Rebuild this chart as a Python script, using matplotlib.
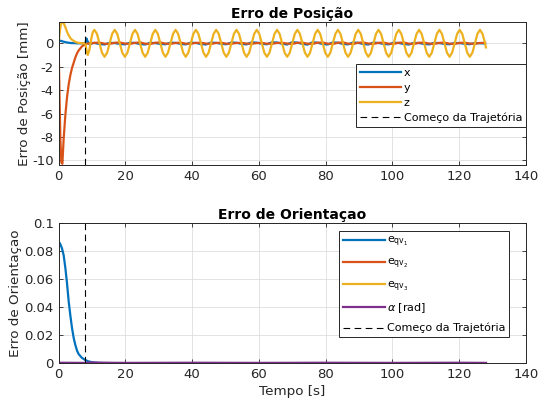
import matplotlib
matplotlib.use('Agg')
import matplotlib.pyplot as plt

plt.rcParams['font.family'] = ['DejaVu Sans']
plt.rcParams['axes.unicode_minus'] = False

# instante em que a trajetoria comeca
t_start = 8.0

# transitorio inicial (posicao)
t_tr = [0.0, 0.25, 0.5, 0.8, 1.1, 1.5, 2.0, 2.5, 3.0, 3.5, 4.0, 5.0, 5.5, 6.0,
        7.0, 8.0, 8.3, 8.7, 9.2, 9.7, 10.2]
x_tr = [0.25, 0.24, 0.22, 0.2, 0.17, 0.14, 0.1, 0.07, 0.05, 0.03, 0.02, 0.01,
        0.0, 0.0, 0.0, 0.0, 0.42, 0.15, -0.08, -0.05, 0.04]
y_tr = [-0.5, -4.5, -8.2, -10.2, -10.3, -8.1, -6.1, -4.6, -3.5, -2.7, -2.1,
        -1.2, -0.85, -0.6, -0.25, -0.08, -0.05, -0.02, 0.0, 0.02, 0.0]
z_tr = [0.0, 0.8, 1.35, 1.75, 1.85, 1.72, 1.38, 0.98, 0.68, 0.45, 0.3, 0.12,
        0.07, 0.04, 0.01, 0.0, -0.55, -1.0, -0.55, 0.3, 0.95]

# regime oscilatorio (posicao)
t_osc = [10.70, 11.46, 12.22, 12.98, 13.74, 14.50, 15.26, 16.02,
         16.78, 17.54, 18.30, 19.06, 19.82, 20.58, 21.34, 22.10,
         22.86, 23.62, 24.38, 25.14, 25.90, 26.66, 27.42, 28.18,
         28.94, 29.70, 30.46, 31.22, 31.98, 32.74, 33.50, 34.26,
         35.02, 35.78, 36.54, 37.30, 38.06, 38.82, 39.58, 40.34,
         41.10, 41.86, 42.62, 43.38, 44.14, 44.90, 45.66, 46.42,
         47.18, 47.94, 48.70, 49.46, 50.22, 50.98, 51.74, 52.50,
         53.26, 54.02, 54.78, 55.54, 56.30, 57.06, 57.82, 58.58,
         59.34, 60.10, 60.86, 61.62, 62.38, 63.14, 63.90, 64.66,
         65.42, 66.18, 66.94, 67.70, 68.46, 69.22, 69.98, 70.74,
         71.50, 72.26, 73.02, 73.78, 74.54, 75.30, 76.06, 76.82,
         77.58, 78.34, 79.10, 79.86, 80.62, 81.38, 82.14, 82.90,
         83.66, 84.42, 85.18, 85.94, 86.70, 87.46, 88.22, 88.98,
         89.74, 90.50, 91.26, 92.02, 92.78, 93.54, 94.30, 95.06,
         95.82, 96.58, 97.34, 98.10, 98.86, 99.62, 100.38, 101.14,
         101.90, 102.66, 103.42, 104.18, 104.94, 105.70, 106.46, 107.22,
         107.98, 108.74, 109.50, 110.26, 111.02, 111.78, 112.54, 113.30,
         114.06, 114.82, 115.58, 116.34, 117.10, 117.86, 118.62, 119.38,
         120.14, 120.90, 121.66, 122.42, 123.18, 123.94, 124.70, 125.46,
         126.22, 126.98, 127.74, 128.00]
z_osc = [1.15, 0.81, 0.0, -0.81, -1.15, -0.81, 0.0, 0.81,
         1.15, 0.81, 0.0, -0.81, -1.15, -0.81, 0.0, 0.81,
         1.15, 0.81, 0.0, -0.81, -1.15, -0.81, 0.0, 0.81,
         1.15, 0.81, 0.0, -0.81, -1.15, -0.81, 0.0, 0.81,
         1.15, 0.81, 0.0, -0.81, -1.15, -0.81, 0.0, 0.81,
         1.15, 0.81, 0.0, -0.81, -1.15, -0.81, 0.0, 0.81,
         1.15, 0.81, 0.0, -0.81, -1.15, -0.81, 0.0, 0.81,
         1.15, 0.81, 0.0, -0.81, -1.15, -0.81, 0.0, 0.81,
         1.15, 0.81, 0.0, -0.81, -1.15, -0.81, 0.0, 0.81,
         1.15, 0.81, 0.0, -0.81, -1.15, -0.81, 0.0, 0.81,
         1.15, 0.81, 0.0, -0.81, -1.15, -0.81, 0.0, 0.81,
         1.15, 0.81, 0.0, -0.81, -1.15, -0.81, 0.0, 0.81,
         1.15, 0.81, 0.0, -0.81, -1.15, -0.81, 0.0, 0.81,
         1.15, 0.81, 0.0, -0.81, -1.15, -0.81, 0.0, 0.81,
         1.15, 0.81, 0.0, -0.81, -1.15, -0.81, 0.0, 0.81,
         1.15, 0.81, 0.0, -0.81, -1.15, -0.81, 0.0, 0.81,
         1.15, 0.81, 0.0, -0.81, -1.15, -0.81, 0.0, 0.81,
         1.15, 0.81, 0.0, -0.81, -1.15, -0.81, 0.0, 0.81,
         1.15, 0.81, 0.0, -0.81, -1.15, -0.81, 0.0, 0.81,
         1.15, 0.81, 0.0, -0.35]
# x e y lidos a cada quarto de periodo (t_osc[::2])
x_osc = [0.03, -0.06, -0.1, 0.04, 0.02, -0.05, -0.09, 0.05,
         0.03, -0.06, -0.1, 0.04, 0.02, -0.05, -0.08, 0.05,
         0.04, -0.05, -0.09, 0.05, 0.03, -0.06, -0.1, 0.06,
         0.04, -0.04, -0.08, 0.07, 0.05, -0.05, -0.09, 0.08,
         0.06, -0.04, -0.08, 0.09, 0.07, -0.04, -0.1, 0.1,
         0.06, -0.05, -0.11, 0.09, 0.05, -0.06, -0.1, 0.08,
         0.05, -0.05, -0.09, 0.07, 0.04, -0.06, -0.1, 0.06,
         0.03, -0.05, -0.09, 0.05, 0.03, -0.06, -0.1, 0.04,
         0.02, -0.05, -0.09, 0.04, 0.02, -0.05, -0.08, 0.03,
         0.02, -0.04, -0.07, 0.02, 0.01, -0.02]
y_osc = [0.04, 0.06, -0.03, -0.05, 0.05, 0.07, -0.02, -0.05,
         0.04, 0.08, -0.03, -0.06, 0.05, 0.07, -0.02, -0.05,
         0.03, 0.06, -0.03, -0.04, 0.04, 0.05, -0.02, -0.05,
         0.03, 0.05, -0.03, -0.04, 0.03, 0.04, -0.02, -0.04,
         0.02, 0.04, -0.03, -0.04, 0.03, 0.05, -0.02, -0.05,
         0.04, 0.06, -0.03, -0.05, 0.05, 0.07, -0.03, -0.06,
         0.05, 0.08, -0.03, -0.06, 0.05, 0.07, -0.02, -0.05,
         0.04, 0.06, -0.03, -0.05, 0.05, 0.07, -0.03, -0.05,
         0.05, 0.06, -0.02, -0.05, 0.04, 0.06, -0.03, -0.05,
         0.04, 0.05, -0.02, -0.04, 0.03, 0.04]

# erro de orientacao
t_ori = [0.0, 0.5, 1.0, 1.5, 2.0, 2.5, 3.0, 3.5, 4.0, 4.5, 5.0, 5.5, 6.0,
         7.0, 8.0, 9.0, 10.0, 12.0, 15.0, 20.0, 128.0]
eqv1 = [0.087, 0.085, 0.082, 0.077, 0.068, 0.057, 0.044, 0.034, 0.025, 0.018,
        0.013, 0.009, 0.0065, 0.0038, 0.0023, 0.0013, 0.0008, 0.0003, 0.0001,
        0.0, 0.0]
t_small = [0.0, 8.0, 9.0, 20.0, 40.0, 60.0, 80.0, 100.0, 120.0, 128.0]
eqv2 = [0.0, 0.0, 0.0002, 0.0001, 0.0, 0.0001, 0.0, 0.0001, 0.0, 0.0]
eqv3 = [0.0, 0.0, -0.0003, 0.0, 0.0, 0.0, 0.0, 0.0, 0.0, 0.0]
alpha = [0.0004, 0.0003, 0.0005, 0.0003, 0.0004, 0.0003, 0.0004, 0.0003,
         0.0004, 0.0003]

blue = '#0072BD'
orange = '#D95319'
yellow = '#EDB120'
purple = '#7E2F8E'
dark = '#262626'


def style_axes(ax):
    ax.set_xlim(0, 140)
    ax.set_xticks(range(0, 141, 20))
    ax.grid(True, color='#dedede', linewidth=0.6)
    ax.set_axisbelow(True)
    ax.tick_params(direction='in', top=True, right=True, length=3,
                   width=0.6, colors=dark, labelsize=9.5)
    for s in ax.spines.values():
        s.set_color(dark)
        s.set_linewidth(0.7)


fig = plt.figure(figsize=(5.45, 4.03), dpi=100)
ax1 = fig.add_axes([0.1077, 0.5906, 0.8574, 0.3556])
ax2 = fig.add_axes([0.1077, 0.0985, 0.8574, 0.3474])

lw = 1.6
dash = (0, (6, 4))

ax1.plot(t_tr + t_osc[::2], x_tr + x_osc, color=blue, lw=lw, label='x')
ax1.plot(t_tr + t_osc[::2], y_tr + y_osc, color=orange, lw=lw, label='y')
ax1.plot(t_tr + t_osc, z_tr + z_osc, color=yellow, lw=lw, label='z')
ax1.axvline(t_start, color='black', lw=0.8, linestyle=dash,
            label='Começo da Trajetória')
style_axes(ax1)
ax1.set_ylim(-10.4, 1.85)
ax1.set_yticks([-10, -8, -6, -4, -2, 0])
ax1.set_ylabel('Erro de Posição [mm]', fontsize=9.7, color=dark, labelpad=1)
ax1.set_title('Erro de Posição', fontsize=10, fontweight='bold', pad=3)
ax1.legend(loc='upper left', bbox_to_anchor=(0.653, 0.841),
           bbox_transform=fig.transFigure, fontsize=8, fancybox=False,
           framealpha=1, edgecolor=dark, handlelength=3.75,
           handletextpad=0.2, labelspacing=0.43, borderpad=0.35,
           borderaxespad=0).get_frame().set_linewidth(0.7)

ax2.plot(t_ori, eqv1, color=blue, lw=lw, label=r'$\mathregular{e_{qv_1}}$')
ax2.plot(t_small, eqv2, color=orange, lw=lw,
         label=r'$\mathregular{e_{qv_2}}$')
ax2.plot(t_small, eqv3, color=yellow, lw=lw,
         label=r'$\mathregular{e_{qv_3}}$')
ax2.plot(t_small, alpha, color=purple, lw=lw, label=r'$\alpha$ [rad]')
ax2.axvline(t_start, color='black', lw=0.8, linestyle=dash,
            label='Começo da Trajetória')
style_axes(ax2)
ax2.set_ylim(0, 0.1)
ax2.set_yticks([0, 0.02, 0.04, 0.06, 0.08, 0.1])
ax2.set_yticklabels(['0', '0.02', '0.04', '0.06', '0.08', '0.1'])
ax2.set_ylabel('Erro de Orientaçao', fontsize=9.7, color=dark, labelpad=1.5)
ax2.set_xlabel('Tempo [s]', fontsize=9.7, color=dark, labelpad=3)
ax2.set_title('Erro de Orientaçao', fontsize=10, fontweight='bold', pad=3)
ax2.legend(loc='upper left', bbox_to_anchor=(0.622, 0.427),
           bbox_transform=fig.transFigure, fontsize=8, fancybox=False,
           framealpha=1, edgecolor=dark, handlelength=3.75,
           handletextpad=0.2, labelspacing=0.7, borderpad=0.35,
           borderaxespad=0).get_frame().set_linewidth(0.7)

fig.savefig('out.png', dpi=100)
